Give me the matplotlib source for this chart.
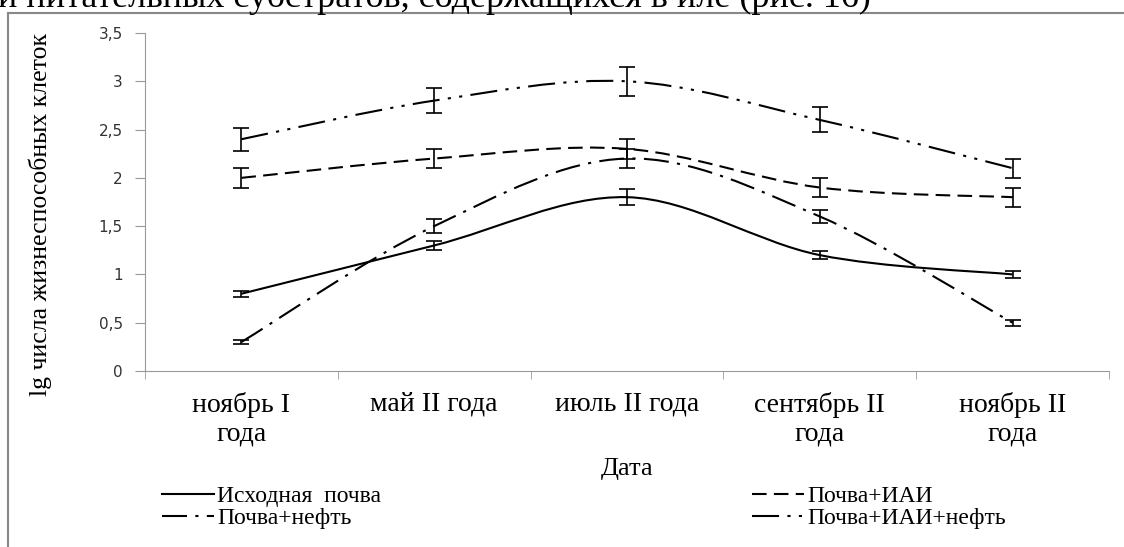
import numpy as np
import matplotlib.pyplot as plt
from matplotlib.path import Path
from matplotlib.patches import PathPatch
from matplotlib.lines import Line2D

# даты отбора проб
dates = ['ноябрь I\nгода', 'май II года', 'июль II года', 'сентябрь II\nгода', 'ноябрь II\nгода']

# lg числа жизнеспособных клеток и погрешности
soil = [0.8, 1.3, 1.8, 1.2, 1.0]
soil_err = [0.03, 0.05, 0.08, 0.04, 0.04]
soil_iai = [2.0, 2.2, 2.3, 1.9, 1.8]
soil_iai_err = [0.1, 0.1, 0.1, 0.1, 0.1]
soil_oil = [0.3, 1.5, 2.2, 1.6, 0.5]
soil_oil_err = [0.02, 0.07, 0.1, 0.07, 0.03]
soil_iai_oil = [2.4, 2.8, 3.0, 2.6, 2.1]
soil_iai_oil_err = [0.12, 0.13, 0.15, 0.13, 0.1]

names = ['Исходная  почва', 'Почва+ИАИ', 'Почва+нефть', 'Почва+ИАИ+нефть']
styles = ['-', (0, (7, 3.5)), (0, (12, 4, 1.5, 4)), (0, (13, 4, 1.5, 4, 1.5, 4))]

serif = 'Liberation Serif'


def smooth_path(xs, ys):
    # сглаженная линия как в Excel (кривые Безье)
    p = np.column_stack([xs, ys]).astype(float)
    n = len(p)
    verts = [p[0]]
    codes = [Path.MOVETO]
    for i in range(n - 1):
        p0 = p[max(i - 1, 0)]
        p1 = p[i]
        p2 = p[i + 1]
        p3 = p[min(i + 2, n - 1)]
        c1 = p1 + (p2 - p0) / 6
        c2 = p2 - (p3 - p1) / 6
        verts += [c1, c2, p2]
        codes += [Path.CURVE4] * 3
    return Path(verts, codes)


fig = plt.figure(figsize=(11.24, 5.47), dpi=100)
ax = fig.add_axes([145 / 1124, 1 - 371 / 547, 964 / 1124, 338 / 547])

x = np.arange(len(dates))
series = [(soil, soil_err), (soil_iai, soil_iai_err), (soil_oil, soil_oil_err),
          (soil_iai_oil, soil_iai_oil_err)]
handles = []
for (y, e), ls, name in zip(series, styles, names):
    ax.add_patch(PathPatch(smooth_path(x, y), facecolor='none', edgecolor='black',
                           lw=1.5, linestyle=ls))
    ax.errorbar(x, y, yerr=e, fmt='none', ecolor='black', elinewidth=1.2,
                capsize=6, capthick=1.2)
    handles.append(Line2D([], [], color='black', lw=1.5, linestyle=ls, label=name))

ax.set_xlim(-0.5, 4.5)
ax.set_ylim(0, 3.5)
ax.set_yticks(np.arange(0, 3.51, 0.5))
ax.set_yticklabels(['0', '0,5', '1', '1,5', '2', '2,5', '3', '3,5'],
                   fontsize=11, color='#333333', family='DejaVu Sans')
ax.set_xticks(x)
ax.set_xticklabels(dates, fontsize=20, family=serif)
ax.set_xticks(np.arange(-0.5, 5, 1), minor=True)
ax.tick_params(axis='x', which='major', length=0, pad=15)
ax.tick_params(axis='x', which='minor', length=6, color='#999999', direction='out')
ax.tick_params(axis='y', length=7, color='#999999', pad=9)
for s in ['top', 'right']:
    ax.spines[s].set_visible(False)
for s in ['left', 'bottom']:
    ax.spines[s].set_color('#999999')

ax.set_xlabel('Дата', fontsize=19, family=serif, labelpad=8)
fig.text(40 / 1124, 1 - 215 / 547, 'lg числа жизнеспособных клеток', rotation=90,
         fontsize=18.5, family=serif, ha='center', va='center')

# обрезанная строка текста сверху и рамка
fig.text(-2 / 1124, 1 - 7 / 547, 'и питательных субстратов, содержащихся в иле (рис. 16)',
         fontsize=26, family=serif, ha='left', va='baseline')
fig.add_artist(Line2D([8 / 1124, 1], [1 - 13 / 547] * 2, color='#888888', lw=1.5))
fig.add_artist(Line2D([8 / 1124] * 2, [0, 1 - 13 / 547], color='#888888', lw=1.5))

leg_kw = dict(frameon=False, prop={'family': serif, 'size': 17}, handlelength=2.2,
              handletextpad=0.15, labelspacing=0.0, borderpad=0, loc='upper left')
fig.legend(handles=[handles[0], handles[2]], bbox_to_anchor=(150 / 1124, 1 - 474 / 547), **leg_kw)
fig.legend(handles=[handles[1], handles[3]], bbox_to_anchor=(740 / 1124, 1 - 474 / 547), **leg_kw)

fig.savefig('out.png', dpi=100)
